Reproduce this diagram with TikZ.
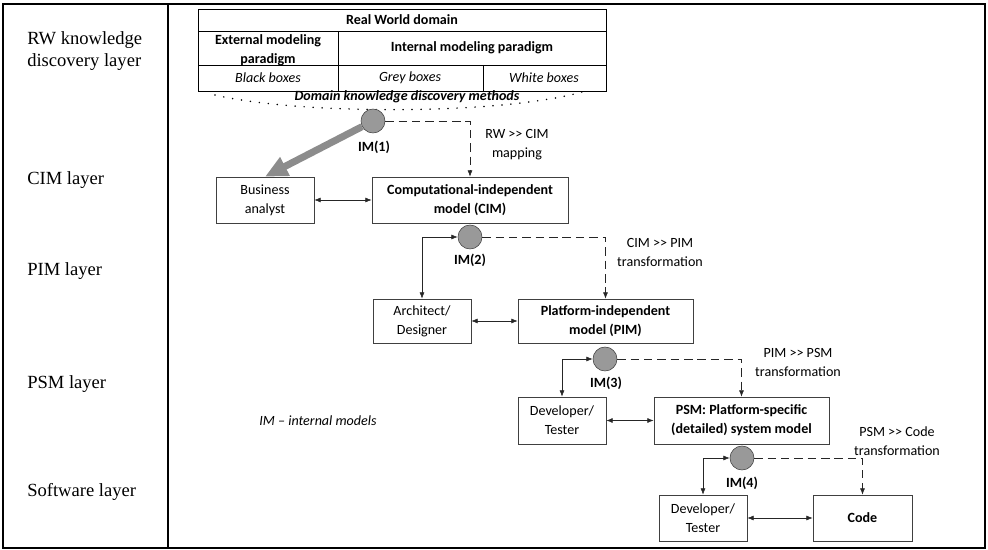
\documentclass[tikz,border=0pt]{standalone}
\usepackage{fontspec}
\setmainfont{Carlito}
\newfontfamily\layerfont{Liberation Serif}
\usepackage{tikz}
\usetikzlibrary{arrows.meta}
\newcommand{\dsize}{\fontsize{10}{13.5}\selectfont}

\begin{document}
\begin{tikzpicture}[x=0.025cm,y=-0.025cm,
  >={Latex[length=4.5pt,width=3.5pt]},
  layer/.style={anchor=west,align=left,inner sep=0pt,font=\layerfont\fontsize{13.2}{15.6}\selectfont},
  tbold/.style={align=center,inner sep=0pt,font=\dsize\bfseries},
  tital/.style={inner sep=0pt,font=\dsize\itshape},
  pbox/.style={draw=black!75,align=center,inner sep=0pt,font=\dsize},
  mbox/.style={pbox,font=\dsize\bfseries},
  imcirc/.style={circle,draw=black!75,fill=black!40,minimum size=0.6cm,inner sep=0pt},
  imlab/.style={inner sep=0pt,font=\dsize\bfseries},
  trlab/.style={align=center,inner sep=0pt,font=\dsize},
  dashline/.style={->,dash pattern=on 6pt off 3.5pt,black!85},
  twoway/.style={<->,black!85},
  bigarrow/.style={-{Triangle[length=16pt,width=14pt]},line width=5pt,black!45},
  dotarc/.style={line width=1.2pt,line cap=round,dash pattern=on 0pt off 6.4pt},
  frame/.style={line width=1.4pt}]
\useasboundingbox (0,0) rectangle (988,550);

\draw[frame] (3,4) rectangle (985,548);
\draw[frame] (168,4)--(168,548);

\node[layer] (rwlay) at (27,51) {RW knowledge\\discovery layer};
\node[layer] (cimlay) at (27,180) {CIM layer};
\node[layer] (pimlay) at (27,271) {PIM layer};
\node[layer] (psmlay) at (27,384) {PSM layer};
\node[layer] (swlay) at (27,492) {Software layer};

\draw (198,9) rectangle (606,91);
\draw (198,31)--(606,31);
\draw (198,65)--(606,65);
\draw (338,31)--(338,91);
\draw (483,65)--(483,91);

\node[tbold] (rwd) at (402,20) {Real World domain};
\node[tbold] (ext) at (268,50) {External modeling\\paradigm};
\node[tbold] (int) at (472,48) {Internal modeling paradigm};
\node[tital] (blk) at (268,78) {Black boxes};
\node[tital] (gry) at (410,78) {Grey boxes};
\node[tital] (wht) at (544,78) {White boxes};
\node[inner sep=0pt,font=\dsize\bfseries\itshape] (dkd) at (407,97) {Domain knowledge discovery methods};
\draw[dotarc] (215,95) .. controls (300,115) and (500,115) .. (582,92);

\node[pbox,minimum width=2.45cm,minimum height=1.15cm] (biz) at (265,200) {Business\\analyst};
\node[mbox,minimum width=4.9cm,minimum height=1.15cm] (cim) at (470,200) {Computational-independent\\model (CIM)};
\node[pbox,minimum width=2.45cm,minimum height=1.1cm] (arch) at (422,321) {Architect/\\Designer};
\node[mbox,minimum width=4.375cm,minimum height=1.1cm] (pim) at (605.5,321) {Platform-independent\\model (PIM)};
\node[pbox,minimum width=2.2cm,minimum height=1.175cm] (dev1) at (562,420.5) {Developer/\\Tester};
\node[mbox,minimum width=4.375cm,minimum height=1.175cm] (psm) at (741.5,420.5) {PSM: Platform-specific\\(detailed) system model};
\node[pbox,minimum width=2.2cm,minimum height=1.15cm] (dev2) at (703,518) {Developer/\\Tester};
\node[mbox,minimum width=2.475cm,minimum height=1.15cm] (code) at (862.5,518) {Code};

\node[imcirc] (im1) at (373,121) {};
\node[imcirc] (im2) at (470,237) {};
\node[imcirc] (im3) at (605,359) {};
\node[imcirc] (im4) at (742,458) {};
\node[imlab] (im1l) at (374,147) {IM(1)};
\node[imlab] (im2l) at (470,260) {IM(2)};
\node[imlab] (im3l) at (606,383) {IM(3)};
\node[imlab] (im4l) at (742,483) {IM(4)};

\node[trlab] (rwcim) at (517,145) {RW >{}> CIM\\mapping};
\node[trlab] (cimpim) at (660,252) {CIM >{}> PIM\\transformation};
\node[trlab] (pimpsm) at (798,362) {PIM >{}> PSM\\transformation};
\node[trlab] (psmcode) at (897,441) {PSM >{}> Code\\transformation};
\node[tital] (imnote) at (318,421) {IM -- internal models};

\draw[bigarrow] (im1) -- (biz.north);
\draw[dashline] (im1.east) -| (cim.north);
\draw[dashline] (im2.east) -| (pim.north);
\draw[dashline] (im3.east) -| (psm.north);
\draw[dashline] (im4.east) -| (code.north);
\draw[twoway] (im2.west) -| (arch.north);
\draw[twoway] (im3.west) -| (dev1.north);
\draw[twoway] (im4.west) -| (dev2.north);
\draw[twoway] (biz) -- (cim);
\draw[twoway] (arch) -- (pim);
\draw[twoway] (dev1) -- (psm);
\draw[twoway] (dev2) -- (code);
\end{tikzpicture}
\end{document}
